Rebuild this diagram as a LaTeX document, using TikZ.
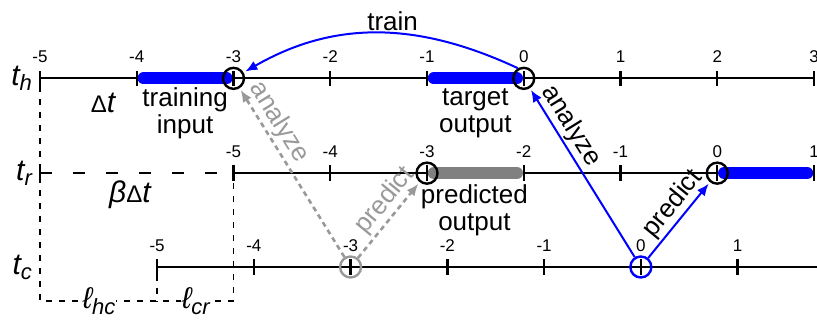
\documentclass[tikz,border=0pt]{standalone}
\usepackage{fontspec}
\setmainfont{Liberation Sans}
\usetikzlibrary{arrows.meta, positioning}

\newcommand{\axislab}[1]{{\fontsize{15}{15}\selectfont\itshape t\raisebox{-2.5pt}{\fontsize{11}{11}\selectfont #1}}}
\newcommand{\lenlab}[1]{{\fontsize{15}{15}\selectfont\itshape ℓ\raisebox{-3pt}{\fontsize{11}{11}\selectfont #1}}}

\begin{document}
\begin{tikzpicture}[x=48.375pt, y=48.375pt,
    axisline/.style={line width=1pt},
    tickmark/.style={line width=1.2pt},
    bar/.style={line width=6pt, line cap=round},
    marker/.style={circle, draw, line width=1.2pt, minimum size=10.5pt, inner sep=0pt},
    guide/.style={line width=0.6pt, dash pattern=on 3pt off 3.5pt},
    ticktext/.style={font=\fontsize{8.5}{10}\selectfont},
    caption/.style={font=\fontsize{13}{13.5}\selectfont, align=center},
    arrowtext/.style={font=\fontsize{13}{13.5}\selectfont, inner sep=1pt},
    bluearrow/.style={draw=barblue, line width=1pt, -{Latex[length=6pt,width=5pt]}, shorten >=1pt},
    grayarrow/.style={color=arrowgray, line width=1.3pt, dash pattern=on 2.5pt off 2pt, -{Latex[length=6pt,width=5pt]}, shorten >=1pt}]
  \definecolor{barblue}{HTML}{0000FF}
  \definecolor{bargray}{HTML}{808080}
  \definecolor{arrowgray}{HTML}{999999}

  \useasboundingbox (-0.4134,-0.5685) rectangle (8.031,2.7597);

  % guides
  \draw[guide] (0,1.87) -- (0,-0.351) -- (2,-0.351) -- (2,0.89);
  \draw[guide] (1.21,-0.08) -- (1.21,-0.351);

  % axes
  \draw[axisline] (0,1.95) -- (8,1.95);
  \draw[line width=1.3pt, dash pattern=on 6pt off 10.5pt] (0,0.97) -- (2,0.97);
  \draw[axisline] (2,0.97) -- (8,0.97);
  \draw[axisline] (1.21,0) -- (8.1,0);

  % windows
  \draw[bar, barblue] (1.07,1.95) -- (1.93,1.95);
  \draw[bar, barblue] (4.07,1.95) -- (4.93,1.95);
  \draw[bar, bargray] (4.07,0.97) -- (4.93,0.97);
  \draw[bar, barblue] (7.07,0.97) -- (7.93,0.97);

  % ticks
  \foreach \x [evaluate=\x as \lab using int(\x-5)] in {0,...,8} {
    \draw[tickmark] (\x,1.87) -- (\x,2.03);
    \node[ticktext] (h\x) at (\x,2.17) {\lab};
  }
  \draw[tickmark] (0,0.89) -- (0,1.05);
  \foreach \x [evaluate=\x as \lab using int(\x-7)] in {2,...,8} {
    \draw[tickmark] (\x,0.89) -- (\x,1.05);
    \node[ticktext] (r\x) at (\x,1.19) {\lab};
  }
  \foreach \k [evaluate=\k as \lab using int(\k-5)] in {0,...,6} {
    \draw[tickmark] (1.21+\k,-0.08) -- (1.21+\k,0.08);
    \node[ticktext] (c\k) at (1.21+\k,0.22) {\lab};
  }

  % axis names
  \node[anchor=east, inner sep=0pt] (thname) at (-0.08,1.95) {\axislab{h}};
  \node[anchor=east, inner sep=0pt] (trname) at (-0.08,0.97) {\axislab{r}};
  \node[anchor=east, inner sep=0pt] (tcname) at (-0.08,0) {\axislab{c}};

  \node (dt) at (0.651,1.695) {{\fontsize{12}{12}\selectfont Δ}{\fontsize{15}{15}\selectfont\itshape t}};
  \node (bdt) at (0.93,0.744) {{\fontsize{15}{15}\selectfont\itshape β}{\fontsize{12}{12}\selectfont Δ}{\fontsize{15}{15}\selectfont\itshape t}};
  \node[fill=white, inner sep=0.5pt] (lhc) at (0.61,-0.351) {\lenlab{hc}};
  \node[fill=white, inner sep=0.5pt] (lcr) at (1.61,-0.351) {\lenlab{cr}};

  \node[caption] (trin) at (1.5,1.592) {training\\input};
  \node[caption] (tgout) at (4.5,1.592) {target\\output};
  \node[caption] (prout) at (4.49,0.589) {predicted\\output};

  % time markers
  \node[marker] (histin) at (2,1.95) {};
  \node[marker] (histout) at (5,1.95) {};
  \node[marker] (refgray) at (4,0.97) {};
  \node[marker] (refblue) at (7,0.97) {};
  \node[marker, draw=arrowgray] (curgray) at (3.21,0) {};
  \node[marker, draw=barblue] (curblue) at (6.21,0) {};

  % arrows
  \draw[bluearrow] (histout.120) to[out=155, in=30] node[arrowtext, above, pos=0.45] (trainlab) {train} (histin);
  \draw[bluearrow] (curblue) -- node[arrowtext, sloped, above, pos=0.73] (anblue) {analyze} (histout);
  \draw[bluearrow] (curblue) -- node[arrowtext, sloped, above, pos=0.59] (prblue) {predict} (refblue);
  \draw[grayarrow] (curgray) -- node[arrowtext, sloped, above, pos=0.75] (angray) {analyze} (histin);
  \draw[grayarrow] (curgray) -- node[arrowtext, sloped, above, pos=0.63] (prgray) {predict} (refgray);
\end{tikzpicture}
\end{document}
